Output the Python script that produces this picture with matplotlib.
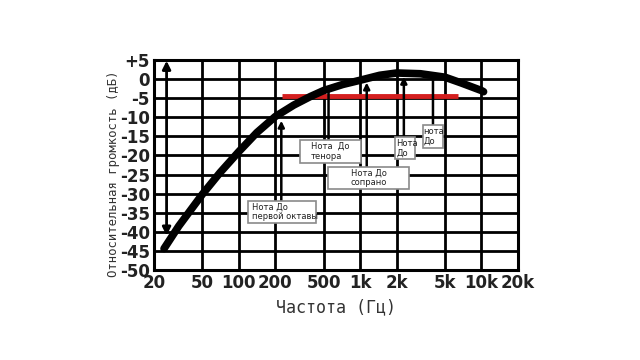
import matplotlib
matplotlib.use('Agg')
import matplotlib.pyplot as plt
from matplotlib.patches import Rectangle

# Кривая относительной громкости (Гц, дБ)
freq = [24.2, 32, 50, 70, 100, 141, 200, 284, 387, 500, 720, 1000, 1450, 2000, 3140, 5000, 6800, 10000, 10400]
level = [-44.4, -38.5, -30.2, -24.5, -19.0, -14.0, -9.8, -6.8, -4.6, -3.0, -1.4, -0.3, 1.0, 1.6, 1.4, 0.5, -1.0, -3.0, -3.3]

# Красная линия
red_freq = [226, 6400]
red_level = -4.4

# Оси
x_ticks = [20, 50, 100, 200, 500, 1000, 2000, 5000, 10000, 20000]
x_labels = ['20', '50', '100', '200', '500', '1k', '2k', '5k', '10k', '20k']
y_ticks = list(range(5, -51, -5))
y_labels = ['+5'] + [str(v) for v in y_ticks[1:]]

# Двойная стрелка (диапазон)
range_freq = 25.4
range_levels = [-41, 4.8]

# Подписи нот: текст, стрелка (частота, от, до, наконечник), рамка
note_texts = ['Нота До\nпервой октавы', 'Нота  До\nтенора', 'Нота До\nсопрано', 'Нота\nДо', 'нота\nДо']
note_freqs = [224, 549, 1133, 2292, 3983]
note_from = [-31.85, -15.95, -22.9, -15.1, -12.0]
note_to = [-10.9, -3.4, -0.9, 0.6, 0.2]
note_head = [True, False, True, True, False]
box_left = [119, 322, 542, 1942, 3272]
box_right = [429, 1025, 2536, 2826, 4845]
box_bottom = [-37.6, -21.9, -28.9, -21.0, -18.0]
box_top = [-31.85, -15.95, -22.9, -15.1, -12.0]
text_x = [129, 390, 1173, 1985, 3340]
text_align = ['left', 'left', 'center', 'left', 'left']

fig = plt.figure(figsize=(6.4, 3.6), dpi=100)
ax = fig.add_axes([0.2406, 0.25, 0.5688, 0.5833])

ax.set_xscale('log')
ax.set_xlim(20, 20000)
ax.set_ylim(-50, 5)
ax.set_xticks(x_ticks)
ax.set_xticklabels(x_labels)
ax.set_yticks(y_ticks)
ax.set_yticklabels(y_labels)
ax.minorticks_off()
ax.tick_params(length=0, labelsize=12, pad=3)
for lbl in ax.get_xticklabels() + ax.get_yticklabels():
    lbl.set_fontweight('bold')
    lbl.set_color('#222222')

ax.grid(True, color='black', linewidth=2.0, zorder=1)
ax.set_axisbelow(True)
for s in ax.spines.values():
    s.set_linewidth(2.2)
    s.set_color('black')

ax.set_xlabel('Частота (Гц)', fontsize=12, family='DejaVu Sans Mono',
              color='#333333')
ax.xaxis.set_label_coords(0.5, -0.133)
ax.set_ylabel('Относительная громкость (дБ)', fontsize=8.8,
              family='DejaVu Sans Mono', color='#333333')
ax.yaxis.set_label_coords(-0.093, 0.46)

# Красная линия
ax.plot(red_freq, [red_level, red_level], color='#d41f1f', linewidth=3.5,
        solid_capstyle='butt', zorder=3)

# Двойная стрелка
ax.annotate('', xy=(range_freq, range_levels[1]), xytext=(range_freq, range_levels[0]),
            arrowprops=dict(arrowstyle='<|-|>', color='black', lw=2.0,
                            mutation_scale=12, shrinkA=0, shrinkB=0), zorder=4)

# Стрелки к нотам
for f, y0, y1, head in zip(note_freqs, note_from, note_to, note_head):
    style = '-|>' if head else '-'
    ax.annotate('', xy=(f, y1), xytext=(f, y0),
                arrowprops=dict(arrowstyle=style, color='black', lw=1.8,
                                mutation_scale=9, shrinkA=0, shrinkB=0), zorder=4)

# Кривая
ax.plot(freq, level, color='black', linewidth=5.5, solid_capstyle='round',
        solid_joinstyle='round', zorder=5)

# Рамки с подписями
for txt, l, r, b, t, tx, ha in zip(note_texts, box_left, box_right, box_bottom,
                                    box_top, text_x, text_align):
    ax.add_patch(Rectangle((l, b), r - l, t - b, facecolor='white',
                           edgecolor='#8a8a8a', linewidth=1.2, zorder=6))
    ax.text(tx, (b + t) / 2, txt, ha=ha, va='center', fontsize=6,
            color='#222222', linespacing=1.1, multialignment=ha, zorder=7)

fig.savefig('out.png', dpi=100, facecolor='white')
